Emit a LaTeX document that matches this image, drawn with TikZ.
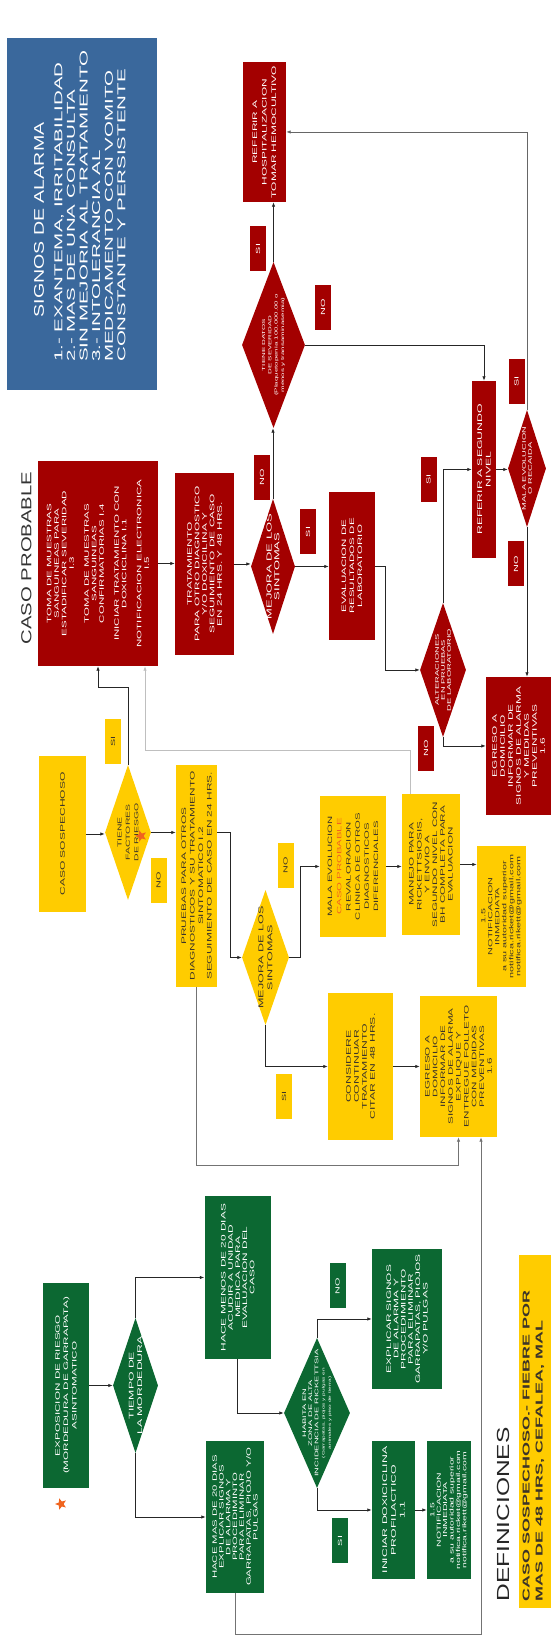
\documentclass[tikz,border=0pt]{standalone}
\usepackage{fontspec}
\setmainfont{Liberation Sans}[FakeStretch=1.8]
\newfontfamily\titlefont{Liberation Sans}[FakeStretch=1.4]
\usetikzlibrary{arrows.meta,shapes.geometric}
\definecolor{rojo}{RGB}{163,0,0}
\definecolor{amarillo}{RGB}{255,204,0}
\definecolor{verde}{RGB}{12,104,50}
\definecolor{azul}{RGB}{58,104,156}
\definecolor{naranja}{RGB}{240,100,30}
\definecolor{tinta}{RGB}{60,52,40}
\newcommand\fsz[2]{\fontsize{#1}{#2}\selectfont}
\tikzset{
  caja/.style={rectangle, inner sep=0pt, align=center},
  cajaroja/.style={caja, fill=rojo, text=white},
  cajaamar/.style={caja, fill=amarillo, text=tinta},
  cajaverde/.style={caja, fill=verde, text=white},
  dia/.style={diamond, inner sep=0pt},
  dtxt/.style={align=center, inner sep=0pt},
  etiq/.style={rectangle, inner sep=0pt, minimum width=45, minimum height=16, font=\fsz{6}{7}},
  flecha/.style={-{Latex[length=4.5pt,width=3.5pt]}, line width=0.8pt, black!85},
  estrella/.style={star, star points=5, star point ratio=2.3, fill=naranja, inner sep=0pt, minimum size=12}
}
\begin{document}
\begin{tikzpicture}[x=1pt, y=1pt, rotate=90, transform shape]
  \useasboundingbox (0,0) rectangle (1637,-551);

  %%%%% SIGNOS DE ALARMA %%%%%
  \node[caja, fill=azul, minimum width=352, minimum height=150] (sig) at (1423,-82) {};
  \node[text=white, font=\titlefont\fsz{14}{16}] (sigtit) at (1417,-39) {SIGNOS DE ALARMA};
  \node[anchor=west, align=left, text=white, inner sep=0pt, font=\fsz{11.4}{12.6}] (siglst) at (1275,-90)
    {1.- EXANTEMA, IRRITABILIDAD\\2.- MAS DE UNA CONSULTA\\SIN MEJORIA AL TRATAMIENTO\\3.- INTOLERANCIA AL\\MEDICAMENTO CON VOMITO\\CONSTANTE Y PERSISTENTE};

  %%%%% CASO PROBABLE %%%%%
  \node[text=black!80, font=\titlefont\fsz{14.5}{16}] (tprob) at (1079,-26.5) {CASO PROBABLE};
  \node[cajaroja, minimum width=205, minimum height=120, font=\fsz{6.4}{7.5}] (toma) at (1073.5,-98)
    {TOMA DE MUESTRAS\\SANGUINEAS PARA\\ESTADIFICAR SEVERIDAD\\I.3\\[7.5pt]TOMA DE MUESTRAS\\SANGUINEAS\\CONFIRMATORIAS I.4\\[7.5pt]INICIAR TRATAMIENTO CON\\DOXICICLINA I.1\\[7.5pt]NOTIFICACION ELECTRONICA\\I.5};
  \node[cajaroja, minimum width=182, minimum height=59, font=\fsz{6.6}{7.5}] (trat) at (1073,-204.5)
    {TRATAMIENTO\\PARA OTRO DIAGNOSTICO\\Y/O DOXICILINA Y\\SEGUIMIENTO DE CASO\\EN 24 HRS. Y 48 HRS.};
  \node[dia, fill=rojo, minimum width=135, minimum height=44,
        label={[dtxt, text=white, font=\fsz{7.2}{7.6}]center:MEJORA DE LOS\\SINTOMAS}] (mejr) at (1070.5,-273) {};
  \node[cajaroja, minimum width=148, minimum height=46, font=\fsz{6.4}{8}] (eval) at (1071,-352)
    {EVALUACION DE\\RESULTADOS DE\\LABORATORIO};
  \node[dia, fill=rojo, minimum width=134, minimum height=46,
        label={[dtxt, text=white, font=\fsz{5.2}{6}]center:ALTERACIONES\\EN PRUEBAS\\DE LABORATORIO}] (alt) at (967,-443) {};
  \node[cajaroja, minimum width=138, minimum height=65, font=\fsz{6.6}{8}] (egr) at (891,-518.5)
    {EGRESO A\\DOMICILIO\\INFORMAR DE\\SIGNOS DE ALARMA\\Y MEDIDAS\\PREVENTIVAS\\1.6};
  \node[dia, fill=rojo, minimum width=166, minimum height=63,
        label={[dtxt, text=white, font=\fsz{4.4}{6.3}]center:TIENE DATOS\\DE SEVERIDAD\\(Plaquetopenia 100,000.00 o\\menos y transaminasemia)}] (sev) at (1292,-273.5) {};
  \node[cajaroja, minimum width=140, minimum height=43, font=\fsz{6.6}{9.5}] (refh) at (1505,-264.5)
    {REFERIR A\\HOSPITALIZACION\\TOMAR HEMOCULTIVO};
  \node[cajaroja, minimum width=177, minimum height=24, font=\fsz{6.8}{8.5}] (refs) at (1167.5,-484)
    {REFERIR A SEGUNDO\\NIVEL};
  \node[dia, fill=rojo, minimum width=117, minimum height=38,
        label={[dtxt, text=white, font=\fsz{5.2}{6}]center:MALA EVOLUCION\\O RECAIDA}] (mala) at (1168.5,-527) {};

  \node[etiq, fill=rojo, text=white] (sirh) at (1388,-258) {SI};
  \node[etiq, fill=rojo, text=white] (nosev) at (1329.5,-323) {NO};
  \node[etiq, fill=rojo, text=white] (simala) at (1255.5,-516.5) {SI};
  \node[etiq, fill=rojo, text=white] (nomala) at (1073,-516) {NO};
  \node[etiq, fill=rojo, text=white] (sialt) at (1157.5,-428.5) {SI};
  \node[etiq, fill=rojo, text=white] (nomej) at (1159.5,-262) {NO};
  \node[etiq, fill=rojo, text=white] (simej) at (1105,-308) {SI};
  \node[etiq, fill=rojo, text=white] (noalt) at (888.5,-426) {NO};

  \draw[flecha] (toma.south) -- (toma.south |- trat.north);
  \draw[flecha] (trat.south) -- (trat.south |- mejr.north);
  \draw[flecha] (mejr.south) -- (mejr.south |- eval.north);
  \draw[flecha] (mejr.east) -- (mejr.east -| sev.west);
  \draw[flecha] (sev.east) -- (sev.east -| refh.west);
  \draw[flecha] (sev.south) |- (refs.east);
  \draw[flecha] (eval.south) -- ++(0,-10) -| (alt.north);
  \draw[flecha] (alt.east) -| (refs.north);
  \draw[flecha] (alt.west) -| (egr.north);
  \draw[flecha] (refs.south) -- (refs.south |- mala.north);
  \draw[flecha] (mala.west) -- (mala.west -| egr.east);
  \draw[flecha, black!60] (mala.east) -| (refh.south);

  %%%%% CASO SOSPECHOSO %%%%%
  \node[cajaamar, minimum width=156, minimum height=47, font=\fsz{6.7}{8}] (sosp) at (803,-62.5) {CASO SOSPECHOSO};
  \node[dia, fill=amarillo, minimum width=135, minimum height=46,
        label={[dtxt, text=tinta, font=\fsz{5.8}{8.3}]center:TIENE\\FACTORES\\DE RIESGO}] (fact) at (804.5,-128) {};
  \node[estrella] (estr1) at (801,-141) {};
  \node[cajaamar, minimum width=222, minimum height=41, font=\fsz{6.6}{8.5}] (prue) at (761,-196.5)
    {PRUEBAS PARA OTROS\\DIAGNOSTICOS Y SU TRATAMIENTO\\SINTOMATICO I.2\\SEGUIMIENTO DE CASO EN 24 HRS.};
  \node[dia, fill=amarillo, minimum width=135, minimum height=47,
        label={[dtxt, text=tinta, font=\fsz{7}{9}]center:MEJORA DE LOS\\SINTOMAS}] (mejy) at (679.5,-265.5) {};
  \node[cajaamar, minimum width=141, minimum height=66, font=\fsz{6.3}{9.2}] (malay) at (770.5,-353)
    {MALA EVOLUCION\\{\color{naranja}CASO PROBABLE}\\REVALORACION\\CLINICA DE OTROS\\DIAGNOSTICOS\\DIFERENCIALES};
  \node[cajaamar, minimum width=141, minimum height=58, font=\fsz{6.5}{7.8}] (manejo) at (772.5,-431)
    {MANEJO PARA\\RICKETTSIOSIS,\\Y ENVIO A\\SEGUNDO NIVEL CON\\BH COMPLETA PARA\\EVALUACION};
  \node[cajaamar, minimum width=141, minimum height=49, font=\fsz{6}{7}] (notify) at (720.5,-501.5)
    {1.5\\NOTIFICACION\\INMEDIATA\\a su autoridad superior\\notifica.ricket@gmail.com\\notifica.rikett@gmail.com};
  \node[cajaamar, minimum width=147, minimum height=65, font=\fsz{6.8}{8}] (cons) at (570.5,-360.5)
    {CONSIDERE\\CONTINUAR\\TRATAMIENTO\\CITAR EN 48 HRS.};
  \node[cajaamar, minimum width=141, minimum height=77, font=\fsz{6.5}{7.8}] (egry) at (570.5,-458.5)
    {EGRESO A\\DOMICILIO\\INFORMAR DE\\SIGNOS DE ALARMA\\EXPLIQUE Y\\ENTREGUE FOLLETO\\CON MEDIDAS\\PREVENTIVAS\\1.6};

  \node[etiq, fill=amarillo, text=tinta] (sisos) at (895.5,-113) {SI};
  \node[etiq, fill=amarillo, text=tinta] (nofac) at (756.5,-158.5) {NO};
  \node[etiq, fill=amarillo, text=tinta] (nomy) at (771.5,-285.5) {NO};
  \node[etiq, fill=amarillo, text=tinta] (simy) at (540.5,-284) {SI};

  \draw[flecha] (sosp.south) -- (sosp.south |- fact.north);
  \draw[flecha] (fact.south) -- (fact.south |- prue.north);
  \draw[flecha] (fact.east) -- ++(77,0) |- (toma.west);
  \draw[flecha] (fact.south |- prue.south) -- ++(0,-13) -| (mejy.north);
  \draw[flecha] (mejy.south) -- ++(0,-11) -| (malay.north);
  \draw[flecha] (mejy.west) -| (cons.north);
  \draw[flecha] (malay.south) -- (malay.south |- manejo.north);
  \draw[flecha] (manejo.south) -- (manejo.south |- notify.north);
  \draw[flecha] (cons.south) -- (cons.south |- egry.north);
  \draw[flecha, black!25] (manejo.east |- 0,-410) -- ++(43,0) |- (toma.west |- 0,-145);
  \draw[flecha, black!55] (prue.west) -- ++(-178,0) |- (egry.west);

  %%%%% EXPOSICION %%%%%
  \node[cajaverde, minimum width=205, minimum height=46, font=\fsz{6.5}{8.3}] (expo) at (251.5,-66)
    {EXPOSICION DE RIESGO\\(MORDEDURA DE GARRAPATA)\\ASINTOMATICO};
  \node[estrella] (estr2) at (133,-61) {};
  \node[dia, fill=verde, minimum width=135, minimum height=45,
        label={[dtxt, text=white, font=\fsz{6.8}{8.5}]center:TIEMPO DE\\LA MORDEDURA}] (tiem) at (251.5,-135.5) {};
  \node[cajaverde, minimum width=163, minimum height=66.5, font=\fsz{6.6}{7.2}] (menos) at (359.5,-237.75)
    {HACE MENOS DE 20 DIAS\\ACUDIR A UNIDAD\\MEDICA PARA\\EVALUACION DEL\\CASO};
  \node[cajaverde, minimum width=152, minimum height=58, font=\fsz{6.3}{6.8}] (mas) at (120,-235)
    {HACE MAS DE 20 DIAS\\EXPLICAR SIGNOS\\DE ALARMA Y\\PROCEDIMINTO\\PARA ELIMINAR\\GARRAPATAS, PIOJO Y/O\\PULGAS};
  \node[dia, fill=verde, minimum width=150, minimum height=66,
        label={[dtxt, text=white, font=\fsz{5.2}{6.2}]center:HABITA EN\\ZONA DE ALTA\\INCIDENCIA DE RICKETTSIA\\{\fsz{3.6}{4.6}(Garrapatas, piojos y pulgas en}\\{\fsz{3.6}{4.6}animales y piso de tierra)}}] (hab) at (224,-317) {};
  \node[cajaverde, minimum width=140, minimum height=70, font=\fsz{6.6}{7.3}] (expl) at (318,-407)
    {EXPLICAR SIGNOS\\DE ALARMA Y\\PROCEDIMIENTO\\PARA ELIMINAR\\GARRAPATAS, PIOJOS\\Y/O PULGAS};
  \node[cajaverde, minimum width=138, minimum height=43, font=\fsz{6.8}{8.7}] (inic) at (127,-393.5)
    {INICIAR DOXICICLINA\\PROFILACTICO\\1.1};
  \node[cajaverde, minimum width=138, minimum height=44, font=\fsz{5.8}{6.4}] (notg) at (127,-449)
    {1.5\\NOTIFICACION\\INMEDIATA\\a su autoridad superior\\notifica.ricket@gmail.com\\notifica.rikett@gmail.com};

  \node[etiq, fill=verde, text=white] (nohab) at (351,-337.5) {NO};
  \node[etiq, fill=verde, text=white] (sihab) at (96,-340) {SI};

  \draw[flecha] (expo.south) -- (expo.south |- tiem.north);
  \draw[flecha] (tiem.east) -| (menos.north);
  \draw[flecha] (tiem.west) -| (mas.north);
  \draw[flecha] (menos.west) -| (hab.north);
  \draw[flecha] (hab.east) -| (expl.north);
  \draw[flecha] (hab.west) -| (inic.north);
  \draw[flecha] (inic.south) -- (inic.south |- notg.north);
  \draw[flecha, black!55] (mas.west) -- ++(-41,0) |- (egry.west |- 0,-481);

  %%%%% DEFINICIONES %%%%%
  \node[text=black!85, font=\titlefont\fsz{17.5}{19}] (tdef) at (122.5,-503) {DEFINICIONES};
  \fill[amarillo] (29,-519) rectangle (382,-551);
  \node[anchor=west, align=left, inner sep=0pt, text=tinta, font=\bfseries\fsz{10}{13}] (defsos) at (35,-533.5)
    {CASO SOSPECHOSO.- FIEBRE POR\\MAS DE 48 HRS, CEFALEA, MAL};
\end{tikzpicture}
\end{document}
